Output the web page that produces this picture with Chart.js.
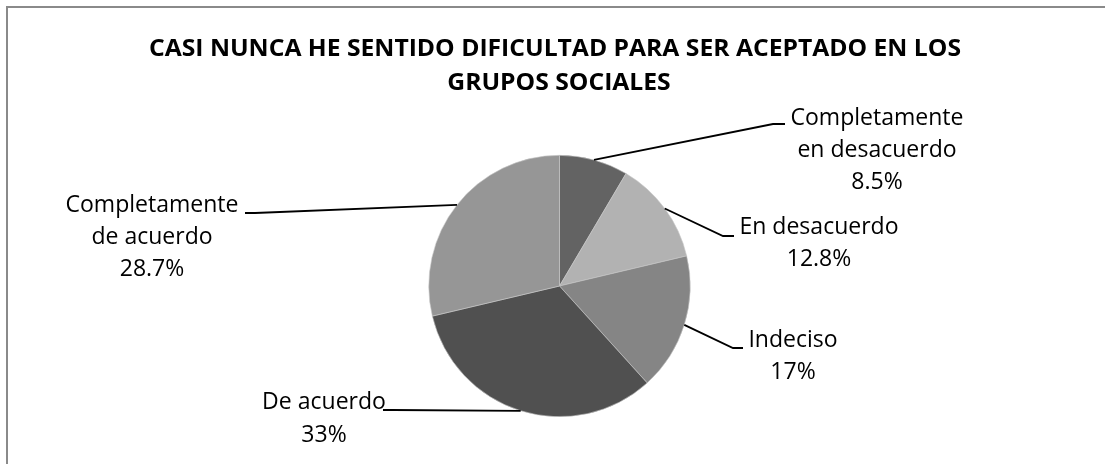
<!DOCTYPE html>
<html lang="es">
<head>
<meta charset="utf-8">
<title>Casi nunca he sentido dificultad para ser aceptado en los grupos sociales</title>
<script src="https://cdn.jsdelivr.net/npm/chart.js@4.4.1/dist/chart.umd.min.js"></script>
<style>
    html, body { margin: 0; padding: 0; background: #fff; }
    #chart { display: block; }
</style>
</head>
<body>
<canvas id="chart" width="1105" height="464"></canvas>
<script>
// === Data ===
const categories = [
    "Completamente en desacuerdo",
    "En desacuerdo",
    "Indeciso",
    "De acuerdo",
    "Completamente de acuerdo"
];
const percentages = [8.5, 12.8, 17, 33, 28.7];
const titleLines = ["CASI NUNCA HE SENTIDO DIFICULTAD PARA SER ACEPTADO EN LOS", "GRUPOS SOCIALES"];

// === Styling (greys of the original) ===
const sliceColors = ["#636363", "#b2b2b2", "#858585", "#505050", "#969696"];
const FONT = "'Open Sans', 'DejaVu Sans', sans-serif";

// Where each label block sits: centre x, first line y, elbow and end of leader line
const labelLayout = [
    { cx: 877, y: 118, elbow: [773, 124], end: [785, 124] },
    { cx: 819, y: 227, elbow: [723, 236], end: [734, 236] },
    { cx: 793, y: 340, elbow: [733, 348], end: [743, 348] },
    { cx: 324, y: 402, elbow: [393, 410], end: [383, 410], gap: 33 },
    { cx: 152, y: 205, elbow: [255, 213], end: [245, 213] }
];

// Long names break after the first word, like the original
function wrapLabel(text) {
    if (text.length <= 15) return [text];
    const i = text.indexOf(" ");
    return [text.slice(0, i), text.slice(i + 1)];
}

// Draw text squeezed horizontally (Calibri is narrower than the fonts available)
function drawSqueezed(ctx, text, x, y, squeeze) {
    ctx.save();
    ctx.translate(x, y);
    ctx.scale(squeeze, 1);
    ctx.fillText(text, 0, 0);
    ctx.restore();
}

// === Plugin: frame, title, leader lines and labels ===
const decorPlugin = {
    id: "decor",
    afterDraw(chart) {
        const ctx = chart.ctx;

        // frame (only left and top edges are visible in the picture)
        ctx.save();
        ctx.strokeStyle = "#8a8a8a";
        ctx.lineWidth = 2;
        ctx.beginPath();
        ctx.moveTo(7, 470);
        ctx.lineTo(7, 7);
        ctx.lineTo(1110, 7);
        ctx.stroke();
        ctx.restore();

        // title
        ctx.save();
        ctx.fillStyle = "#000";
        ctx.textAlign = "center";
        ctx.textBaseline = "middle";
        ctx.font = "bold 24px " + FONT;
        const titleSqueeze = 812 / ctx.measureText(titleLines[0]).width;
        drawSqueezed(ctx, titleLines[0], 555, 49, titleSqueeze);
        drawSqueezed(ctx, titleLines[1], 559, 83, titleSqueeze);
        ctx.restore();

        // labels
        const arcs = chart.getDatasetMeta(0).data;
        ctx.save();
        ctx.font = "23px " + FONT;
        const labelSqueeze = 173 / ctx.measureText("Completamente").width;
        arcs.forEach((arc, i) => {
            const p = arc.getProps(["x", "y", "startAngle", "endAngle", "outerRadius"], true);
            const mid = (p.startAngle + p.endAngle) / 2;
            const ax = p.x + Math.cos(mid) * p.outerRadius;
            const ay = p.y + Math.sin(mid) * p.outerRadius;
            const lay = labelLayout[i];

            // leader line
            ctx.strokeStyle = "#000";
            ctx.lineWidth = 1.8;
            ctx.beginPath();
            ctx.moveTo(ax, ay);
            ctx.lineTo(lay.elbow[0], lay.elbow[1]);
            ctx.lineTo(lay.end[0], lay.end[1]);
            ctx.stroke();

            // text block
            const lines = wrapLabel(categories[i]).concat([percentages[i] + "%"]);
            const gap = lay.gap || 32;
            ctx.fillStyle = "#000";
            ctx.textAlign = "center";
            ctx.textBaseline = "middle";
            lines.forEach((t, k) => drawSqueezed(ctx, t, lay.cx, lay.y + k * gap, labelSqueeze));
        });
        ctx.restore();
    }
};

// === Build the pie ===
const ctx = document.getElementById("chart").getContext("2d");
new Chart(ctx, {
    type: "pie",
    data: {
        labels: categories,
        datasets: [{
            data: percentages,
            backgroundColor: sliceColors,
            borderColor: "#c8c8c8",
            borderWidth: 0.6
        }]
    },
    options: {
        responsive: false,
        animation: false,
        layout: {
            padding: { left: 428.5, right: 414.5, top: 155, bottom: 47 }
        },
        plugins: {
            legend: { display: false },
            title: { display: false },
            tooltip: { enabled: false }
        }
    },
    plugins: [decorPlugin]
});
</script>
</body>
</html>
